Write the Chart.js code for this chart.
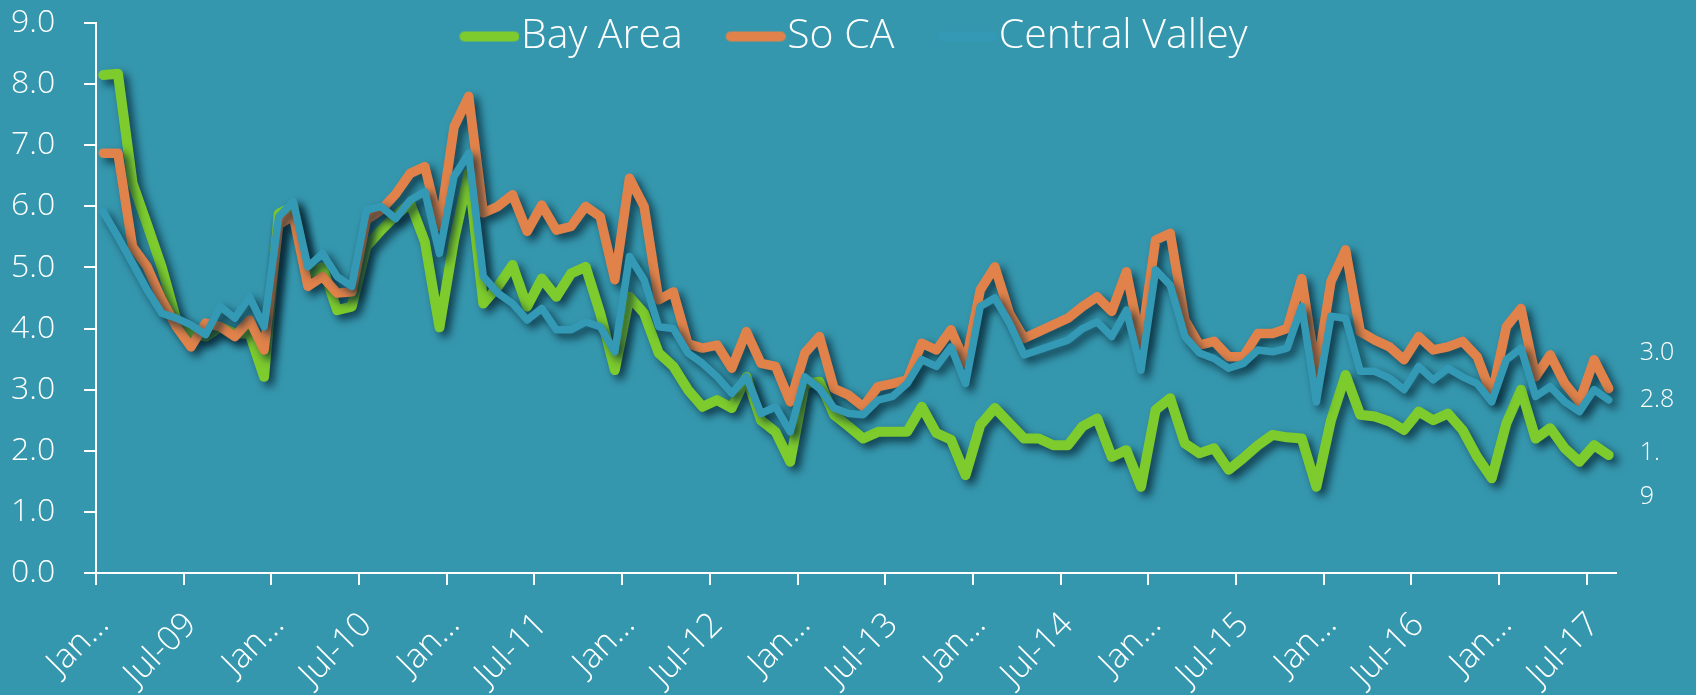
<!DOCTYPE html>
<html>
<head>
<meta charset="utf-8">
<script src="https://cdn.jsdelivr.net/npm/chart.js@4.4.0/dist/chart.umd.min.js"></script>
<style>
    html, body { margin: 0; padding: 0; background: #3597AE; }
    #wrap { width: 1696px; height: 695px; }
</style>
</head>
<body>
<div id="wrap"><canvas id="myChart"></canvas></div>
<script>
const months = [
    'Jan-09', 'Feb-09', 'Mar-09', 'Apr-09', 'May-09', 'Jun-09', 'Jul-09', 'Aug-09', 'Sep-09', 'Oct-09', 'Nov-09', 'Dec-09',
    'Jan-10', 'Feb-10', 'Mar-10', 'Apr-10', 'May-10', 'Jun-10', 'Jul-10', 'Aug-10', 'Sep-10', 'Oct-10', 'Nov-10', 'Dec-10',
    'Jan-11', 'Feb-11', 'Mar-11', 'Apr-11', 'May-11', 'Jun-11', 'Jul-11', 'Aug-11', 'Sep-11', 'Oct-11', 'Nov-11', 'Dec-11',
    'Jan-12', 'Feb-12', 'Mar-12', 'Apr-12', 'May-12', 'Jun-12', 'Jul-12', 'Aug-12', 'Sep-12', 'Oct-12', 'Nov-12', 'Dec-12',
    'Jan-13', 'Feb-13', 'Mar-13', 'Apr-13', 'May-13', 'Jun-13', 'Jul-13', 'Aug-13', 'Sep-13', 'Oct-13', 'Nov-13', 'Dec-13',
    'Jan-14', 'Feb-14', 'Mar-14', 'Apr-14', 'May-14', 'Jun-14', 'Jul-14', 'Aug-14', 'Sep-14', 'Oct-14', 'Nov-14', 'Dec-14',
    'Jan-15', 'Feb-15', 'Mar-15', 'Apr-15', 'May-15', 'Jun-15', 'Jul-15', 'Aug-15', 'Sep-15', 'Oct-15', 'Nov-15', 'Dec-15',
    'Jan-16', 'Feb-16', 'Mar-16', 'Apr-16', 'May-16', 'Jun-16', 'Jul-16', 'Aug-16', 'Sep-16', 'Oct-16', 'Nov-16', 'Dec-16',
    'Jan-17', 'Feb-17', 'Mar-17', 'Apr-17', 'May-17', 'Jun-17', 'Jul-17', 'Aug-17'
];

// one label every 6 months, the January ones are cut off like in the original
const tickLabels = ['Jan…', 'Jul-09', 'Jan…', 'Jul-10', 'Jan…', 'Jul-11', 'Jan…', 'Jul-12', 'Jan…',
    'Jul-13', 'Jan…', 'Jul-14', 'Jan…', 'Jul-15', 'Jan…', 'Jul-16', 'Jan…', 'Jul-17'];

const bayArea = [
    8.15, 8.17, 6.38, 5.7, 5.0, 4.14, 3.92, 3.87, 4.03, 3.92, 3.92, 3.21,
    5.88, 6.0, 4.9, 5.0, 4.3, 4.36, 5.34, 5.61, 5.85, 6.05, 5.42, 4.02,
    5.45, 6.54, 4.41, 4.69, 5.04, 4.36, 4.82, 4.52, 4.9, 5.01, 4.25, 3.32,
    4.52, 4.25, 3.6, 3.38, 3.0, 2.72, 2.83, 2.7, 3.21, 2.5, 2.31, 1.82,
    3.1, 3.13, 2.59, 2.4, 2.2, 2.31, 2.31, 2.31, 2.72, 2.29, 2.18, 1.6,
    2.42, 2.7, 2.45, 2.2, 2.2, 2.09, 2.09, 2.4, 2.53, 1.9, 2.01, 1.41,
    2.67, 2.86, 2.12, 1.96, 2.04, 1.69, 1.88, 2.09, 2.26, 2.22, 2.2, 1.41,
    2.5, 3.24, 2.59, 2.56, 2.48, 2.34, 2.64, 2.5, 2.61, 2.34, 1.9, 1.55,
    2.45, 3.0, 2.2, 2.37, 2.04, 1.82, 2.09, 1.93
];

const soCA = [
    6.87, 6.87, 5.34, 5.01, 4.47, 4.03, 3.7, 4.09, 4.03, 3.87, 4.14, 3.65,
    5.7, 5.85, 4.69, 4.85, 4.58, 4.6, 5.78, 5.94, 6.2, 6.54, 6.65, 5.67,
    7.3, 7.8, 5.89, 6.0, 6.19, 5.59, 6.02, 5.61, 5.67, 6.0, 5.83, 4.8,
    6.46, 6.0, 4.47, 4.6, 3.75, 3.68, 3.73, 3.35, 3.95, 3.43, 3.38, 2.8,
    3.6, 3.87, 3.02, 2.91, 2.72, 3.05, 3.1, 3.16, 3.76, 3.65, 3.98, 3.43,
    4.63, 5.01, 4.25, 3.84, 3.95, 4.06, 4.17, 4.36, 4.52, 4.28, 4.93, 3.76,
    5.45, 5.56, 4.14, 3.73, 3.79, 3.54, 3.54, 3.92, 3.92, 4.0, 4.82, 3.27,
    4.77, 5.29, 3.95, 3.81, 3.7, 3.49, 3.87, 3.65, 3.7, 3.79, 3.54, 2.91,
    4.03, 4.33, 3.21, 3.57, 3.1, 2.8, 3.49, 3.02
];

const centralValley = [
    5.91, 5.5, 5.07, 4.63, 4.25, 4.17, 4.06, 3.9, 4.36, 4.17, 4.52, 4.03,
    5.83, 6.08, 5.01, 5.23, 4.85, 4.69, 5.94, 6.0, 5.8, 6.1, 6.24, 5.23,
    6.49, 6.87, 4.85, 4.58, 4.41, 4.14, 4.33, 3.98, 3.98, 4.11, 4.03, 3.62,
    5.18, 4.8, 4.03, 4.0, 3.6, 3.43, 3.21, 2.94, 3.21, 2.61, 2.72, 2.31,
    3.21, 3.02, 2.7, 2.61, 2.59, 2.83, 2.89, 3.1, 3.49, 3.38, 3.7, 3.1,
    4.36, 4.5, 4.09, 3.57, 3.65, 3.73, 3.81, 4.0, 4.11, 3.87, 4.3, 3.32,
    4.96, 4.71, 3.87, 3.6, 3.51, 3.35, 3.43, 3.65, 3.62, 3.68, 4.36, 2.8,
    4.2, 4.17, 3.3, 3.3, 3.19, 3.0, 3.38, 3.16, 3.35, 3.21, 3.1, 2.8,
    3.49, 3.68, 2.89, 3.05, 2.8, 2.64, 3.0, 2.83
];

const FONT = '"Open Sans", Roboto, sans-serif';
const WHITE = '#FFFFFF';

// little canvas used as legend sample: a thick rounded line sitting close to the text
function legendLine(color) {
    const c = document.createElement('canvas');
    c.width = 106;
    c.height = 14;
    const g = c.getContext('2d');
    g.strokeStyle = color;
    g.lineWidth = 10;
    g.lineCap = 'round';
    g.beginPath();
    g.moveTo(51, 7);
    g.lineTo(101, 7);
    g.stroke();
    return c;
}

// dark drop shadow under every line
const lineShadow = {
    id: 'lineShadow',
    beforeDatasetDraw(chart) {
        const c = chart.ctx;
        c.save();
        c.shadowColor = 'rgba(8, 38, 52, 0.8)';
        c.shadowBlur = 9;
        c.shadowOffsetX = 5;
        c.shadowOffsetY = 5;
    },
    afterDatasetDraw(chart) {
        chart.ctx.restore();
    }
};

// the legend only takes 1px in the layout (it floats over the plot like in Excel),
// so give it its real box back before it is drawn, otherwise it gets clipped away
const floatingLegend = {
    id: 'floatingLegend',
    afterLayout(chart) {
        const lg = chart.legend;
        lg.top = 0;
        lg.height = 75;
        lg.bottom = 75;
        lg.left = 64;
        lg.width = lg.right - lg.left;
    }
};

// last value written to the right of each line
const endLabels = {
    id: 'endLabels',
    afterDatasetsDraw(chart) {
        const c = chart.ctx;
        c.save();
        c.font = '300 25px ' + FONT;
        c.fillStyle = WHITE;
        c.textBaseline = 'middle';
        c.textAlign = 'left';
        chart.data.datasets.forEach((ds, i) => {
            const meta = chart.getDatasetMeta(i);
            const pt = meta.data[meta.data.length - 1];
            const text = ds.data[ds.data.length - 1].toFixed(1);
            const lines = ds.wrapEndLabel ? [text.slice(0, 2), text.slice(2)] : [text];
            lines.forEach((t, k) => c.fillText(t, pt.x + 31, pt.y + ds.endLabelShift + k * 44));
        });
        c.restore();
    }
};

const ctx = document.getElementById('myChart').getContext('2d');
const myChart = new Chart(ctx, {
    type: 'line',
    data: {
        labels: months,
        datasets: [{
            label: 'Bay Area',
            data: bayArea,
            borderColor: '#7DCB2D',
            borderWidth: 10,
            order: 3,
            pointStyle: legendLine('#7DCB2D'),
            endLabelShift: -2,
            wrapEndLabel: true
        }, {
            label: 'So CA',
            data: soCA,
            borderColor: '#E0824A',
            borderWidth: 9.5,
            order: 2,
            pointStyle: legendLine('#E0824A'),
            endLabelShift: -36
        }, {
            label: 'Central Valley',
            data: centralValley,
            borderColor: '#3499B4',
            borderWidth: 7.5,
            order: 1,
            pointStyle: legendLine('#3499B4'),
            endLabelShift: 0
        }]
    },
    options: {
        responsive: true,
        maintainAspectRatio: false,
        animation: false,
        datasets: {
            line: {
                pointRadius: 0,
                pointHoverRadius: 0,
                tension: 0,
                borderCapStyle: 'round',
                borderJoinStyle: 'round',
                clip: false
            }
        },
        layout: {
            padding: { top: 22, right: 80, left: 11, bottom: 0 }
        },
        plugins: {
            legend: {
                position: 'top',
                maxHeight: 1,
                labels: {
                    usePointStyle: true,
                    pointStyleWidth: 68,
                    padding: 16,
                    color: WHITE,
                    font: { family: FONT, size: 41, weight: '300' },
                    sort: (a, b) => a.datasetIndex - b.datasetIndex
                }
            },
            tooltip: { enabled: false }
        },
        scales: {
            x: {
                offset: true,
                grid: {
                    offset: true,
                    drawOnChartArea: false,
                    tickLength: 12,
                    lineWidth: 2,
                    color: (c) => c.index % 6 === 0 ? WHITE : 'rgba(0,0,0,0)'
                },
                border: { color: WHITE, width: 2 },
                ticks: {
                    autoSkip: false,
                    minRotation: 45,
                    maxRotation: 45,
                    padding: 20,
                    color: WHITE,
                    font: { family: FONT, size: 34, weight: '300' },
                    callback: (v, i) => i % 6 === 0 ? tickLabels[i / 6] : ''
                },
                afterFit: (s) => { s.height = 122; }
            },
            y: {
                min: 0,
                max: 9,
                grid: {
                    drawOnChartArea: false,
                    tickLength: 12,
                    lineWidth: 2,
                    color: WHITE
                },
                border: { color: WHITE, width: 2 },
                ticks: {
                    stepSize: 1,
                    padding: 0,
                    crossAlign: 'far',
                    color: WHITE,
                    font: { family: FONT, size: 32, weight: '300' },
                    callback: (v) => v.toFixed(1)
                },
                afterFit: (s) => { s.width = 85; }
            }
        }
    },
    plugins: [lineShadow, floatingLegend, endLabels]
});
</script>
</body>
</html>
